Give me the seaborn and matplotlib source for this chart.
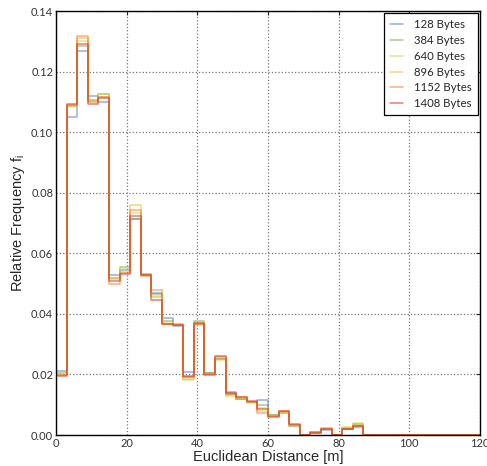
import numpy as np
import pandas as pd
import matplotlib
matplotlib.use('Agg')
import matplotlib.pyplot as plt
import seaborn as sns

# bins of 3 m from 0 to 120 m (everything after 87 m is empty)
bin_width = 3
n_bins = 40
payloads = ['128 Bytes', '384 Bytes', '640 Bytes', '896 Bytes', '1152 Bytes', '1408 Bytes']

# relative frequency per bin (first 29 bins, rest is zero)
freq_128 = [0.0210, 0.1051, 0.1268, 0.1119, 0.1099, 0.0528, 0.0545, 0.0714, 0.0532, 0.0470,
            0.0385, 0.0360, 0.0207, 0.0368, 0.0205, 0.0250, 0.0142, 0.0120, 0.0110, 0.0116,
            0.0065, 0.0072, 0.0030, 0.0, 0.0008, 0.0018, 0.0, 0.0020, 0.0028]
freq_384 = [0.0205, 0.1086, 0.1285, 0.1108, 0.1125, 0.0520, 0.0556, 0.0715, 0.0530, 0.0465,
            0.0378, 0.0362, 0.0190, 0.0376, 0.0204, 0.0250, 0.0135, 0.0118, 0.0108, 0.0098,
            0.0066, 0.0075, 0.0032, 0.0, 0.0010, 0.0020, 0.0, 0.0022, 0.0035]
freq_640 = [0.0200, 0.1088, 0.1300, 0.1106, 0.1125, 0.0517, 0.0548, 0.0735, 0.0528, 0.0460,
            0.0372, 0.0364, 0.0182, 0.0372, 0.0200, 0.0248, 0.0132, 0.0122, 0.0106, 0.0089,
            0.0066, 0.0074, 0.0033, 0.0, 0.0011, 0.0020, 0.0, 0.0025, 0.0040]
freq_896 = [0.0198, 0.1088, 0.1310, 0.1102, 0.1118, 0.0515, 0.0540, 0.0759, 0.0528, 0.0457,
            0.0368, 0.0362, 0.0185, 0.0365, 0.0200, 0.0250, 0.0130, 0.0120, 0.0108, 0.0080,
            0.0064, 0.0077, 0.0030, 0.0, 0.0010, 0.0021, 0.0, 0.0020, 0.0032]
freq_1152 = [0.0197, 0.1090, 0.1317, 0.1100, 0.1115, 0.0499, 0.0535, 0.0743, 0.0526, 0.0479,
             0.0366, 0.0366, 0.0190, 0.0368, 0.0201, 0.0258, 0.0136, 0.0124, 0.0109, 0.0073,
             0.0062, 0.0079, 0.0032, 0.0, 0.0009, 0.0022, 0.0, 0.0021, 0.0030]
freq_1408 = [0.0195, 0.1092, 0.1293, 0.1093, 0.1112, 0.0510, 0.0531, 0.0724, 0.0530, 0.0446,
             0.0368, 0.0365, 0.0196, 0.0370, 0.0198, 0.0261, 0.0138, 0.0125, 0.0112, 0.0085,
             0.0060, 0.0078, 0.0035, 0.0, 0.0008, 0.0020, 0.0, 0.0020, 0.0030]

colors = ['#5577c0', '#78a058', '#c8d848', '#f2b428', '#f27a30', '#d82818']

centers = np.arange(n_bins) * bin_width + bin_width / 2

rows = []
for name, vals in zip(payloads, [freq_128, freq_384, freq_640, freq_896, freq_1152, freq_1408]):
    vals = list(vals) + [0.0] * (n_bins - len(vals))
    for c, v in zip(centers, vals):
        rows.append({'distance': c, 'freq': v, 'payload': name})
df = pd.DataFrame(rows)

sns.set_style('white')
plt.rcParams['font.family'] = ['Lato', 'DejaVu Sans']

fig = plt.figure(figsize=(4.87, 4.66), dpi=100)
ax = fig.add_axes([0.115, 0.0665, 0.8705, 0.9095])

# seaborn draws the first hue level on top, so reverse to get 1408 Bytes on top
sns.histplot(data=df, x='distance', weights='freq', hue='payload', hue_order=payloads[::-1],
             binwidth=bin_width, binrange=(0, bin_width * n_bins), element='step',
             fill=False, palette=dict(zip(payloads, colors)), linewidth=1.1, alpha=0.6, ax=ax)

ax.set_xlim(0, 120)
ax.set_ylim(0, 0.14)
ax.set_xticks(np.arange(0, 121, 20))
ax.set_yticks(np.arange(0, 0.141, 0.02))
ax.yaxis.set_major_formatter(matplotlib.ticker.FormatStrFormatter('%.2f'))
ax.grid(True, linestyle=':', color='#777777', linewidth=0.9)
ax.set_axisbelow(True)
for s in ax.spines.values():
    s.set_color('black')
    s.set_linewidth(1.0)
ax.tick_params(direction='in', length=3, width=0.8, top=True, right=True,
               labelsize=8, labelcolor='#333333', pad=2)

ax.set_xlabel('Euclidean Distance [m]', family='Liberation Sans', fontsize=10.5, labelpad=1)
ax.set_ylabel(r'Relative Frequency f$_\mathregular{i}$', family='Liberation Sans',
              fontsize=10.5, labelpad=3)

# legend back in 128 -> 1408 order
old = ax.get_legend()
handles = list(old.legend_handles)[::-1]
labels = [t.get_text() for t in old.get_texts()][::-1]
old.remove()
leg = ax.legend(handles, labels, loc='upper right', frameon=True, fancybox=False,
                edgecolor='black', framealpha=1, fontsize=8.2, borderaxespad=0.15,
                borderpad=0.55, handlelength=1.1, handletextpad=1.0, labelspacing=0.42)
leg.get_frame().set_linewidth(0.9)

fig.savefig('out.png', dpi=100)
